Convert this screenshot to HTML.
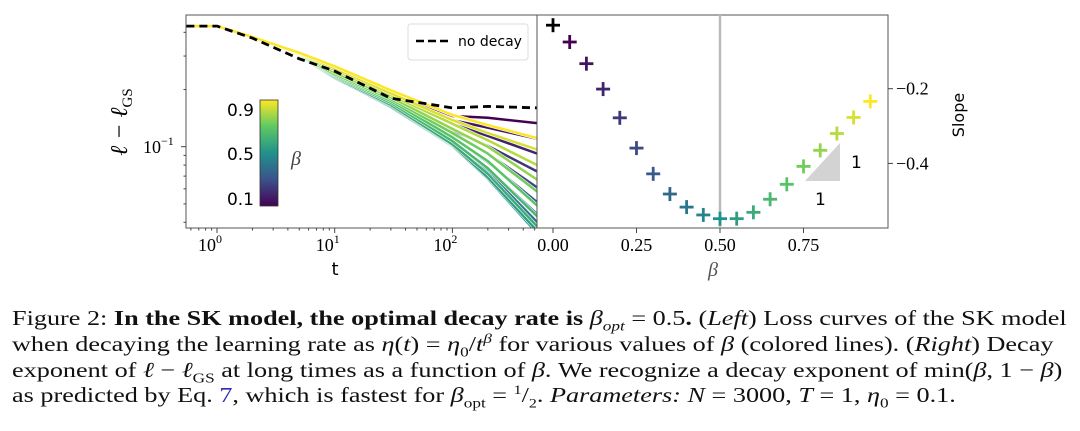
<!DOCTYPE html>
<html><head><meta charset="utf-8"><style>
body{margin:0;background:#fff;width:1080px;height:431px;overflow:hidden;font-family:"Liberation Serif",serif;}
#cap{position:absolute;left:12px;top:306px;width:870px;font-size:21.3px;color:#111;white-space:nowrap;transform:scaleX(1.23);transform-origin:0 0}
#cap div{height:25.8px;line-height:25.8px}
#cap i{font-style:italic}
#cap sub,#cap sup{line-height:0}
</style></head><body>
<svg id="fig" width="1080" height="290" style="position:absolute;left:0;top:0" font-family="Liberation Serif, serif"></svg>
<div id="cap">
<div>Figure 2: <b>In the SK model, the optimal decay rate is</b> <i>β<sub style="font-size:14px">opt</sub></i> = 0.5<b>.</b> (<i>Left</i>) Loss curves of the SK model</div>
<div>when decaying the learning rate as <i>η</i>(<i>t</i>) = <i>η</i><sub style="font-size:14px">0</sub>/<i>t<sup style="font-size:14px">β</sup></i> for various values of <i>β</i> (colored lines). (<i>Right</i>) Decay</div>
<div>exponent of <i>ℓ</i> − <i>ℓ</i><sub style="font-size:14px">GS</sub> at long times as a function of <i>β</i>. We recognize a decay exponent of min(<i>β</i>, 1 − <i>β</i>)</div>
<div>as predicted by Eq. <span style="color:#2b2bb0">7</span>, which is fastest for <i>β</i><sub style="font-size:14px">opt</sub> = <sup style="font-size:13px">1</sup>/<sub style="font-size:13px">2</sub>. <i>Parameters: N</i> = 3000, <i>T</i> = 1, <i>η</i><sub style="font-size:14px">0</sub> = 0.1.</div>
</div>
<script>
const times=[0.55,1,2,5,10,30,100,200,525];
const betas=[0.05,0.1,0.15,0.2,0.25,0.3,0.35,0.4,0.45,0.5,0.55,0.6,0.65,0.7,0.75,0.8,0.85,0.9,0.95];
const noDecay=[0.431,0.431,0.373,0.29,0.25,0.18,0.16,0.163,0.16];
const loss=[
[0.431,0.431,0.373,0.304,0.253,0.194,0.145,0.142,0.133],
[0.431,0.431,0.373,0.304,0.250,0.189,0.138,0.126,0.110],
[0.431,0.431,0.372,0.303,0.246,0.185,0.132,0.114,0.092],
[0.431,0.431,0.372,0.302,0.243,0.180,0.122,0.101,0.074],
[0.431,0.431,0.371,0.301,0.241,0.176,0.117,0.092,0.061],
[0.431,0.431,0.371,0.300,0.238,0.172,0.112,0.083,0.051],
[0.431,0.431,0.370,0.299,0.235,0.168,0.107,0.077,0.044],
[0.431,0.431,0.370,0.298,0.232,0.166,0.104,0.074,0.040],
[0.431,0.431,0.369,0.297,0.230,0.164,0.102,0.070,0.036],
[0.431,0.431,0.369,0.297,0.230,0.162,0.101,0.068,0.035],
[0.431,0.431,0.370,0.298,0.230,0.164,0.102,0.069,0.036],
[0.431,0.431,0.371,0.299,0.232,0.166,0.103,0.072,0.038],
[0.431,0.431,0.372,0.300,0.235,0.170,0.107,0.077,0.043],
[0.431,0.431,0.373,0.302,0.238,0.174,0.112,0.084,0.049],
[0.431,0.431,0.374,0.304,0.241,0.178,0.118,0.092,0.058],
[0.431,0.431,0.375,0.306,0.246,0.182,0.124,0.100,0.067],
[0.431,0.431,0.376,0.308,0.253,0.187,0.132,0.108,0.080],
[0.431,0.431,0.377,0.310,0.259,0.191,0.138,0.118,0.0965],
[0.431,0.431,0.378,0.312,0.265,0.198,0.147,0.130,0.111]];
const slopeBeta=[0,0.05,0.1,0.15,0.2,0.25,0.3,0.35,0.4,0.45,0.5,0.55,0.6,0.65,0.7,0.75,0.8,0.85,0.9,0.95];
const slopes=[-0.03,-0.075,-0.133,-0.201,-0.278,-0.359,-0.428,-0.482,-0.517,-0.538,-0.548,-0.548,-0.531,-0.496,-0.456,-0.408,-0.365,-0.32,-0.277,-0.234];
const xTicksL=[1,10,100];
const xTickLabelsL=["0","1","2"];
const xTicksR=[0,0.25,0.5,0.75];
const yTicksR=[-0.2,-0.4];

const svg=document.getElementById('fig');
const NS='http://www.w3.org/2000/svg';
function mk(tag,attrs,parent){const e=document.createElementNS(NS,tag);for(const k in attrs)e.setAttribute(k,attrs[k]);(parent||svg).appendChild(e);return e;}
const L={x0:186,x1:537,y0:15,y1:228};
const R={x0:537,x1:888,y0:15,y1:228};
const xL=t=>217+117.7*Math.log10(t);
const yL=v=>146.7-190*(Math.log10(v)+1);
const xR=b=>553+334*b;
const yR=s=>88.7-(s+0.2)*373.5;
const stops=[[68,1,84],[59,82,139],[33,145,140],[94,201,98],[253,231,37]];
function vir(f){f=Math.max(0,Math.min(1,f));const p=f*4,i=Math.min(3,Math.floor(p)),r=p-i;const a=stops[i],b=stops[i+1];return `rgb(${a.map((c,k)=>Math.round(c+(b[k]-c)*r)).join(',')})`;}
const col=b=>vir((b-0.05)/0.9);

const defs=mk('defs',{});
const cp=mk('clipPath',{id:'cl'},defs);mk('rect',{x:L.x0,y:L.y0,width:L.x1-L.x0,height:L.y1-L.y0},cp);
const gl=mk('g',{'clip-path':'url(#cl)'});

loss.forEach((row,i)=>{
  const d=row.map((v,j)=>(j?'L':'M')+xL(times[j]).toFixed(1)+','+yL(v).toFixed(1)).join('');
  mk('path',{d,fill:'none',stroke:'#fff','stroke-width':3.6,'stroke-linejoin':'round'},gl);
  const p=mk('path',{d,fill:'none',stroke:col(betas[i]),'stroke-width':2.5,'stroke-linejoin':'round'},gl);
  
  
});
const nd=mk('path',{d:noDecay.map((v,j)=>(j?'L':'M')+xL(times[j]).toFixed(1)+','+yL(v).toFixed(1)).join(''),fill:'none',stroke:'#000','stroke-width':2.8,'stroke-dasharray':'8,5'},gl);



const la=mk('rect',{x:L.x0,y:L.y0,width:L.x1-L.x0,height:L.y1-L.y0,fill:'none',stroke:'#555','stroke-width':1});

xTicksL.forEach((t,i)=>{
  mk('line',{x1:xL(t),x2:xL(t),y1:L.y1,y2:L.y1+5,stroke:'#444'});
  const tx=mk('text',{x:xL(t)-7,y:251,'font-size':18,'text-anchor':'middle'});tx.textContent='10';
  const s=mk('tspan',{dy:-8,'font-size':12},tx);s.textContent=xTickLabelsL[i];
  
  for(let k=2;k<10;k++){const m=t*k;if(xL(m)<L.x1)mk('line',{x1:xL(m),x2:xL(m),y1:L.y1,y2:L.y1+2.5,stroke:'#444'});}
});
[0.6,0.7,0.8,0.9].forEach(m=>mk('line',{x1:xL(m),x2:xL(m),y1:L.y1,y2:L.y1+2.5,stroke:'#444'}));
[0.04,0.05,0.06,0.07,0.08,0.09,0.2,0.3,0.4].forEach(v=>{const y=yL(v);if(y>L.y0&&y<L.y1)mk('line',{x1:L.x0-2.5,x2:L.x0,y1:y,y2:y,stroke:'#444'});});
mk('line',{x1:L.x0-5,x2:L.x0,y1:yL(0.1),y2:yL(0.1),stroke:'#444'});
const yt=mk('text',{x:143,y:153,'font-size':18});yt.textContent='10';
const ys=mk('tspan',{dy:-8,'font-size':12},yt);ys.textContent='−1';

const xlab=mk('text',{x:335,y:275,'font-size':18,'text-anchor':'middle','font-family':'DejaVu Sans, sans-serif'});xlab.textContent='t';

const ylab=mk('text',{transform:'translate(127,122) rotate(-90)','font-size':24,'text-anchor':'middle','font-style':'italic'});
ylab.innerHTML='ℓ − ℓ<tspan font-style="normal" font-size="15" dy="5">GS</tspan>';


const lg=mk('g',{});
mk('rect',{x:408,y:24,width:120,height:36,rx:3,fill:'#fff',stroke:'#ddd'},lg);
mk('line',{x1:416,x2:451,y1:41,y2:41,stroke:'#000','stroke-width':2.6,'stroke-dasharray':'8,4'},lg);
const lt=mk('text',{x:458,y:46,'font-size':14,'font-family':'DejaVu Sans, sans-serif'},lg);lt.textContent='no decay';

const gr=mk('linearGradient',{id:'vg',x1:0,y1:1,x2:0,y2:0},defs);
stops.forEach((s,i)=>mk('stop',{offset:i/4,'stop-color':`rgb(${s})`},gr));
const cb=mk('rect',{x:260,y:100,width:18,height:106,fill:'url(#vg)',stroke:'#333','stroke-width':0.8});

[['0.9',116],['0.5',160],['0.1',205]].forEach(([t,y])=>{const e=mk('text',{x:254,y,'font-size':17,'text-anchor':'end','font-family':'DejaVu Sans, sans-serif'});e.textContent=t;
});
const cbl=mk('text',{x:291,y:165,'font-size':20,'font-style':'italic',fill:'#444'});cbl.textContent='β';


const ra=mk('rect',{x:R.x0,y:R.y0,width:R.x1-R.x0,height:R.y1-R.y0,fill:'none',stroke:'#555','stroke-width':1});

const vl=mk('line',{x1:xR(0.5),x2:xR(0.5),y1:R.y0,y2:R.y1,stroke:'#bbb','stroke-width':2.5});

const tri=mk('polygon',{points:'805,181 840,181 840,143',fill:'#d3d3d3'});

[['1',851,168],['1',815,205]].forEach(([t,x,y])=>{const e=mk('text',{x,y,'font-size':17,'font-family':'DejaVu Sans, sans-serif'});e.textContent=t;
});
slopes.forEach((s,i)=>{
  const b=slopeBeta[i],x=xR(b),y=yR(s),c=i===0?'#000':col(b);
  const g=mk('g',{stroke:c,'stroke-width':2.8});
  
  mk('line',{x1:x-7,x2:x+7,y1:y,y2:y},g);mk('line',{x1:x,x2:x,y1:y-7,y2:y+7},g);
});
xTicksR.forEach(b=>{mk('line',{x1:xR(b),x2:xR(b),y1:R.y1,y2:R.y1+5,stroke:'#444'});
  const e=mk('text',{x:xR(b),y:251,'font-size':18,'text-anchor':'middle'});e.textContent=b.toFixed(2);
  });
yTicksR.forEach(s=>{mk('line',{x1:R.x1,x2:R.x1+5,y1:yR(s),y2:yR(s),stroke:'#444'});
  const e=mk('text',{x:896,y:yR(s)+6,'font-size':18});e.textContent='−'+Math.abs(s).toFixed(1);
  });
const bl=mk('text',{x:713,y:276,'font-size':20,'font-style':'italic',fill:'#555','text-anchor':'middle'});bl.textContent='β';

const sl=mk('text',{transform:'translate(964,115) rotate(-90)','font-size':16,'text-anchor':'middle','font-family':'DejaVu Sans, sans-serif'});sl.textContent='Slope';

</script>
</body></html>
